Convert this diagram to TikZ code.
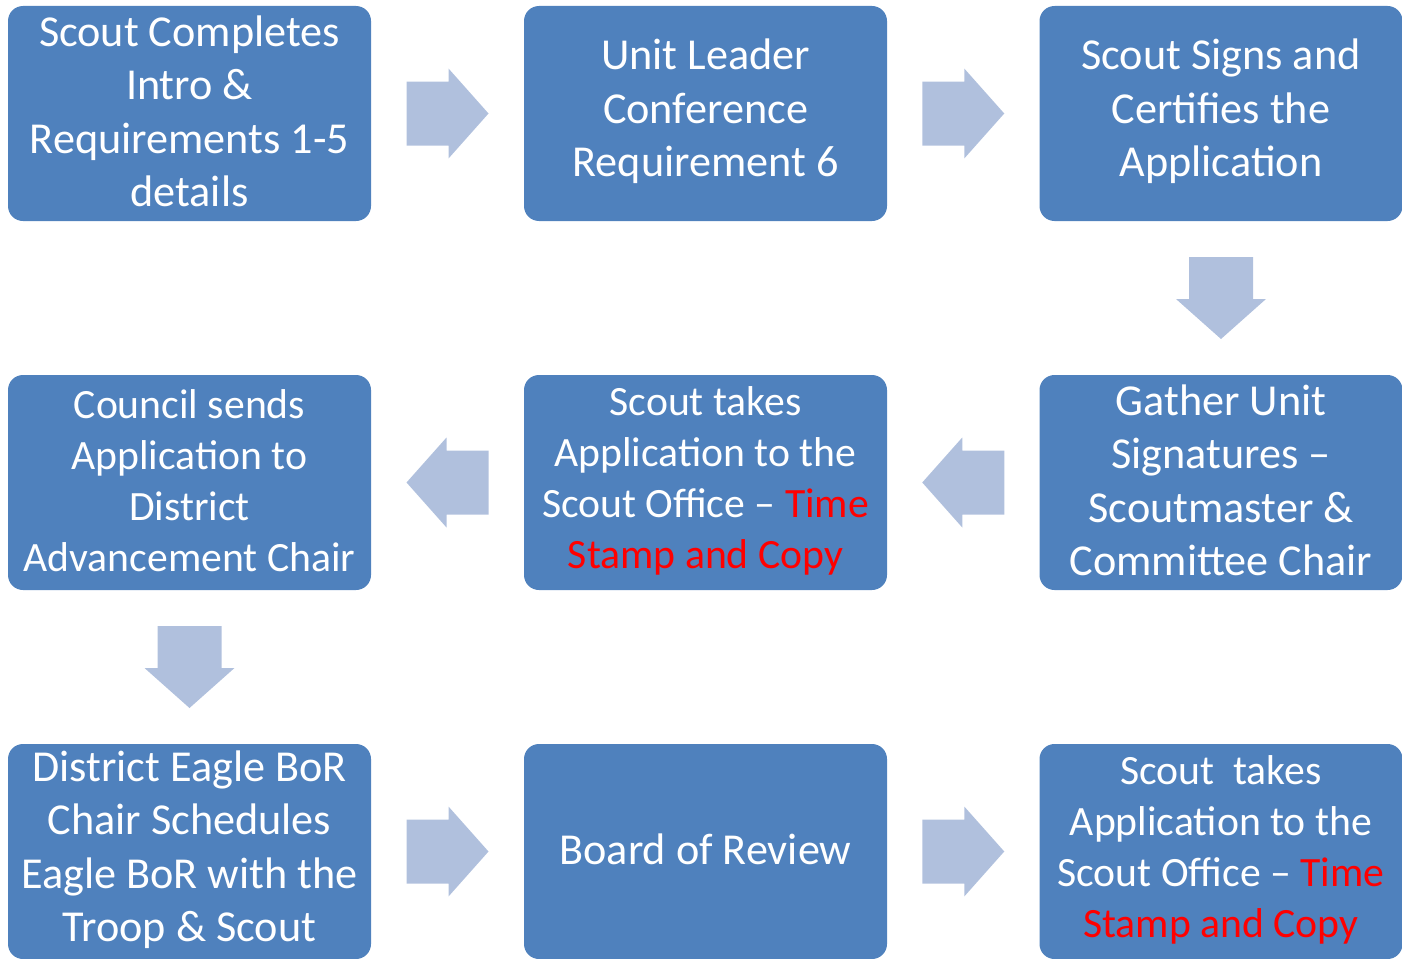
\documentclass[tikz,border=0pt]{standalone}
\usepackage{fontspec}
\setmainfont{Carlito}
\usetikzlibrary{calc}
\definecolor{boxblue}{HTML}{4F81BD}
\definecolor{arrowblue}{HTML}{B0C0DD}
\definecolor{hot}{HTML}{FF0000}
\begin{document}
\begin{tikzpicture}[x=1pt,y=-1pt,
  stepbox/.style={fill=boxblue, rounded corners=15pt, minimum width=363pt, minimum height=215pt, inner sep=0pt},
  txt/.style={text=white, align=center, inner sep=0pt, yshift=2pt, font=\fontsize{44.2}{53.5}\selectfont},
  smalltxt/.style={txt, font=\fontsize{41.7}{51}\selectfont},
  pics/blockarrow/.style={code={\fill[arrowblue] (-41,-32) -- (1,-32) -- (1,-45) -- (41,0) -- (1,45) -- (1,32) -- (-41,32) -- cycle;}}]
\useasboundingbox (0,0) rectangle (1402,958);
\node[stepbox, label={[txt]center:{Scout Completes\\Intro \&\\Requirements 1-5\\details}}] (a1) at (189.5,113.5) {};
\node[stepbox, label={[txt]center:{Unit Leader\\Conference\\Requirement 6}}] (a2) at (705.5,113.5) {};
\node[stepbox, label={[txt]center:{Scout Signs and\\Certifies the\\Application}}] (a3) at (1221,113.5) {};
\node[stepbox, label={[txt]center:{Gather Unit\\Signatures –\\Scoutmaster \&\\Committee Chair}}] (b3) at (1221,482.5) {};
\node[stepbox, label={[smalltxt]center:{Scout takes\\Application to the\\Scout Office – \textcolor{hot}{Time}\\\textcolor{hot}{Stamp and Copy}}}] (b2) at (705.5,482.5) {};
\node[stepbox, label={[smalltxt]center:{Council sends\\Application to\\District\\Advancement Chair}}] (b1) at (189.5,482.5) {};
\node[stepbox, label={[txt]center:{District Eagle BoR\\Chair Schedules\\Eagle BoR with the\\Troop \& Scout}}] (c1) at (189.5,851.5) {};
\node[stepbox, label={[txt]center:{Board of Review}}] (c2) at (705.5,851.5) {};
\node[stepbox, label={[smalltxt]center:{Scout~~takes\\Application to the\\Scout Office – \textcolor{hot}{Time}\\\textcolor{hot}{Stamp and Copy}}}] (c3) at (1221,851.5) {};
\pic at ($(a1.east)!0.5!(a2.west)$) {blockarrow};
\pic at ($(a2.east)!0.5!(a3.west)$) {blockarrow};
\pic[rotate=-90] at ($(a3.south)!0.5!(b3.north)$) {blockarrow};
\pic[rotate=180] at ($(b3.west)!0.5!(b2.east)$) {blockarrow};
\pic[rotate=180] at ($(b2.west)!0.5!(b1.east)$) {blockarrow};
\pic[rotate=-90] at ($(b1.south)!0.5!(c1.north)$) {blockarrow};
\pic at ($(c1.east)!0.5!(c2.west)$) {blockarrow};
\pic at ($(c2.east)!0.5!(c3.west)$) {blockarrow};
\end{tikzpicture}
\end{document}
